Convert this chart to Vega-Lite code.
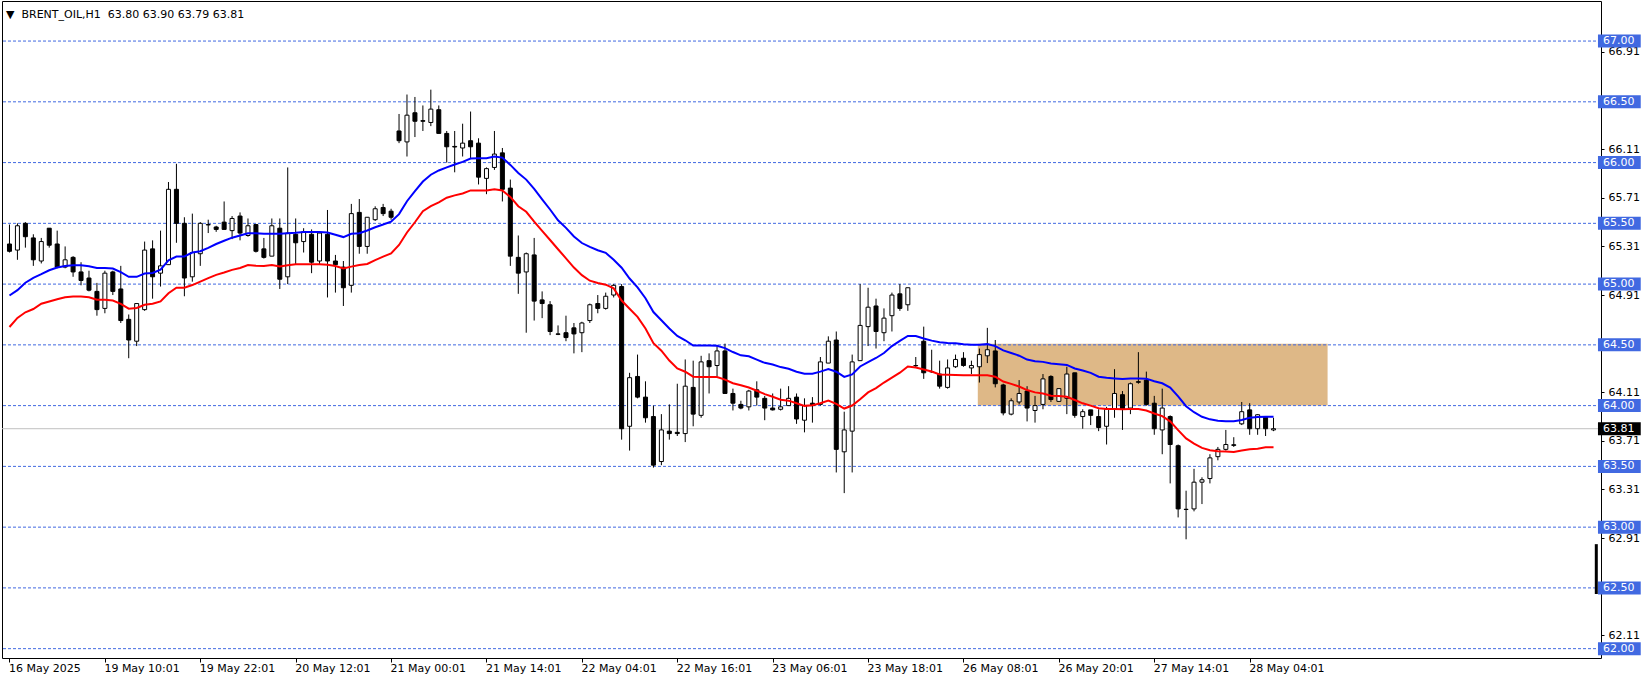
{
"$schema": "https://vega.github.io/schema/vega-lite/v6.json",
"width": 1599, "height": 657,
"autosize": {"type": "none"},
"padding": {"left": 2, "top": 1, "right": 50, "bottom": 24},
"background": "white",
"config": {"view": {"stroke": "black", "strokeWidth": 1}, "font": "DejaVu Sans"},
"title": {"text": "▼\u00a0\u00a0BRENT_OIL,H1\u00a0\u00a063.80 63.90 63.79 63.81", "anchor": "start", "frame": "group", "orient": "top", "offset": -25, "baseline": "middle", "dx": 4, "font": "DejaVu Sans", "fontSize": 11, "fontWeight": "normal", "color": "black"},
"datasets": {
"bars": [
{"i":0,"o":65.33,"h":65.49,"l":65.26,"c":65.27,"ma1":64.906,"ma2":64.647},
{"i":1,"o":65.28,"h":65.50,"l":65.20,"c":65.48,"ma1":64.95,"ma2":64.722},
{"i":2,"o":65.50,"h":65.51,"l":65.30,"c":65.39,"ma1":65.011,"ma2":64.768},
{"i":3,"o":65.38,"h":65.41,"l":65.15,"c":65.20,"ma1":65.052,"ma2":64.795},
{"i":4,"o":65.19,"h":65.38,"l":65.17,"c":65.35,"ma1":65.082,"ma2":64.838},
{"i":5,"o":65.46,"h":65.46,"l":65.30,"c":65.32,"ma1":65.114,"ma2":64.857},
{"i":6,"o":65.33,"h":65.44,"l":65.13,"c":65.14,"ma1":65.136,"ma2":64.876},
{"i":7,"o":65.14,"h":65.31,"l":65.13,"c":65.20,"ma1":65.149,"ma2":64.892},
{"i":8,"o":65.22,"h":65.23,"l":65.06,"c":65.10,"ma1":65.155,"ma2":64.898},
{"i":9,"o":65.10,"h":65.18,"l":64.99,"c":65.03,"ma1":65.155,"ma2":64.898},
{"i":10,"o":65.05,"h":65.11,"l":64.94,"c":64.95,"ma1":65.146,"ma2":64.892},
{"i":11,"o":64.94,"h":65.01,"l":64.74,"c":64.79,"ma1":65.133,"ma2":64.871},
{"i":12,"o":64.80,"h":65.11,"l":64.76,"c":65.09,"ma1":65.133,"ma2":64.871},
{"i":13,"o":65.10,"h":65.11,"l":64.91,"c":64.94,"ma1":65.128,"ma2":64.865},
{"i":14,"o":64.96,"h":65.15,"l":64.68,"c":64.70,"ma1":65.098,"ma2":64.838},
{"i":15,"o":64.71,"h":64.75,"l":64.39,"c":64.54,"ma1":65.06,"ma2":64.798},
{"i":16,"o":64.53,"h":64.84,"l":64.49,"c":64.84,"ma1":65.06,"ma2":64.803},
{"i":17,"o":64.79,"h":65.35,"l":64.78,"c":65.28,"ma1":65.087,"ma2":64.83},
{"i":18,"o":65.29,"h":65.36,"l":64.88,"c":65.06,"ma1":65.092,"ma2":64.838},
{"i":19,"o":65.09,"h":65.44,"l":64.98,"c":65.15,"ma1":65.119,"ma2":64.857},
{"i":20,"o":65.16,"h":65.84,"l":65.16,"c":65.78,"ma1":65.195,"ma2":64.925},
{"i":21,"o":65.78,"h":65.99,"l":65.34,"c":65.50,"ma1":65.227,"ma2":64.971},
{"i":22,"o":65.50,"h":65.55,"l":64.90,"c":65.05,"ma1":65.227,"ma2":64.971},
{"i":23,"o":65.06,"h":65.58,"l":65.02,"c":65.26,"ma1":65.26,"ma2":64.992},
{"i":24,"o":65.25,"h":65.51,"l":65.15,"c":65.50,"ma1":65.27,"ma2":65.02},
{"i":25,"o":65.487,"h":65.53,"l":65.42,"c":65.49,"ma1":65.298,"ma2":65.049},
{"i":26,"o":65.47,"h":65.48,"l":65.43,"c":65.45,"ma1":65.33,"ma2":65.076},
{"i":27,"o":65.51,"h":65.68,"l":65.45,"c":65.45,"ma1":65.357,"ma2":65.095},
{"i":28,"o":65.44,"h":65.56,"l":65.37,"c":65.54,"ma1":65.382,"ma2":65.117},
{"i":29,"o":65.56,"h":65.59,"l":65.36,"c":65.42,"ma1":65.40,"ma2":65.133},
{"i":30,"o":65.40,"h":65.54,"l":65.39,"c":65.48,"ma1":65.419,"ma2":65.157},
{"i":31,"o":65.49,"h":65.49,"l":65.26,"c":65.27,"ma1":65.419,"ma2":65.152},
{"i":32,"o":65.29,"h":65.38,"l":65.21,"c":65.22,"ma1":65.414,"ma2":65.149},
{"i":33,"o":65.23,"h":65.54,"l":65.23,"c":65.48,"ma1":65.414,"ma2":65.157},
{"i":34,"o":65.46,"h":65.54,"l":64.96,"c":65.04,"ma1":65.414,"ma2":65.144},
{"i":35,"o":65.06,"h":65.96,"l":65.00,"c":65.42,"ma1":65.419,"ma2":65.155},
{"i":36,"o":65.41,"h":65.54,"l":65.16,"c":65.34,"ma1":65.422,"ma2":65.163},
{"i":37,"o":65.35,"h":65.46,"l":65.26,"c":65.43,"ma1":65.428,"ma2":65.163},
{"i":38,"o":65.41,"h":65.45,"l":65.09,"c":65.18,"ma1":65.428,"ma2":65.163},
{"i":39,"o":65.19,"h":65.43,"l":65.16,"c":65.42,"ma1":65.428,"ma2":65.163},
{"i":40,"o":65.41,"h":65.61,"l":64.89,"c":65.19,"ma1":65.425,"ma2":65.16},
{"i":41,"o":65.19,"h":65.24,"l":64.93,"c":65.16,"ma1":65.406,"ma2":65.149},
{"i":42,"o":65.14,"h":65.19,"l":64.82,"c":64.97,"ma1":65.387,"ma2":65.128},
{"i":43,"o":64.99,"h":65.66,"l":64.93,"c":65.58,"ma1":65.414,"ma2":65.144},
{"i":44,"o":65.59,"h":65.70,"l":65.25,"c":65.31,"ma1":65.419,"ma2":65.157},
{"i":45,"o":65.31,"h":65.55,"l":65.25,"c":65.55,"ma1":65.441,"ma2":65.166},
{"i":46,"o":65.53,"h":65.64,"l":65.52,"c":65.62,"ma1":65.468,"ma2":65.198},
{"i":47,"o":65.63,"h":65.66,"l":65.56,"c":65.58,"ma1":65.49,"ma2":65.226},
{"i":48,"o":65.60,"h":65.62,"l":65.53,"c":65.55,"ma1":65.514,"ma2":65.252},
{"i":49,"o":66.26,"h":66.40,"l":66.16,"c":66.18,"ma1":65.576,"ma2":65.322},
{"i":50,"o":66.17,"h":66.56,"l":66.05,"c":66.39,"ma1":65.682,"ma2":65.425},
{"i":51,"o":66.41,"h":66.54,"l":66.21,"c":66.34,"ma1":65.765,"ma2":65.509},
{"i":52,"o":66.345,"h":66.47,"l":66.26,"c":66.34,"ma1":65.844,"ma2":65.60},
{"i":53,"o":66.33,"h":66.60,"l":66.30,"c":66.44,"ma1":65.90,"ma2":65.641},
{"i":54,"o":66.435,"h":66.47,"l":66.24,"c":66.24,"ma1":65.935,"ma2":65.673},
{"i":55,"o":66.24,"h":66.26,"l":66.00,"c":66.13,"ma1":65.96,"ma2":65.711},
{"i":56,"o":66.133,"h":66.26,"l":65.92,"c":66.128,"ma1":65.984,"ma2":65.73},
{"i":57,"o":66.12,"h":66.32,"l":66.05,"c":66.16,"ma1":66.006,"ma2":65.746},
{"i":58,"o":66.18,"h":66.42,"l":66.03,"c":66.13,"ma1":66.033,"ma2":65.771},
{"i":59,"o":66.16,"h":66.20,"l":65.82,"c":65.88,"ma1":66.035,"ma2":65.771},
{"i":60,"o":65.87,"h":65.96,"l":65.74,"c":65.95,"ma1":66.035,"ma2":65.771},
{"i":61,"o":65.96,"h":66.26,"l":65.94,"c":66.07,"ma1":66.049,"ma2":65.781},
{"i":62,"o":66.08,"h":66.12,"l":65.68,"c":65.78,"ma1":66.041,"ma2":65.771},
{"i":63,"o":65.79,"h":65.86,"l":65.15,"c":65.23,"ma1":65.981,"ma2":65.717},
{"i":64,"o":65.22,"h":65.40,"l":64.92,"c":65.09,"ma1":65.914,"ma2":65.641},
{"i":65,"o":65.10,"h":65.26,"l":64.60,"c":65.25,"ma1":65.86,"ma2":65.595},
{"i":66,"o":65.24,"h":65.38,"l":64.70,"c":64.86,"ma1":65.784,"ma2":65.514},
{"i":67,"o":64.87,"h":64.94,"l":64.72,"c":64.84,"ma1":65.698,"ma2":65.438},
{"i":68,"o":64.83,"h":64.86,"l":64.58,"c":64.61,"ma1":65.614,"ma2":65.363},
{"i":69,"o":64.59,"h":64.66,"l":64.58,"c":64.587,"ma1":65.525,"ma2":65.287},
{"i":70,"o":64.60,"h":64.74,"l":64.53,"c":64.56,"ma1":65.463,"ma2":65.212},
{"i":71,"o":64.64,"h":64.68,"l":64.43,"c":64.59,"ma1":65.392,"ma2":65.136},
{"i":72,"o":64.60,"h":64.69,"l":64.44,"c":64.68,"ma1":65.338,"ma2":65.074},
{"i":73,"o":64.70,"h":64.84,"l":64.68,"c":64.83,"ma1":65.306,"ma2":65.028},
{"i":74,"o":64.84,"h":64.91,"l":64.76,"c":64.80,"ma1":65.279,"ma2":65.009},
{"i":75,"o":64.80,"h":64.93,"l":64.79,"c":64.90,"ma1":65.257,"ma2":64.995},
{"i":76,"o":64.91,"h":65.00,"l":64.89,"c":64.99,"ma1":65.20,"ma2":64.965},
{"i":77,"o":64.98,"h":65.00,"l":63.72,"c":63.81,"ma1":65.135,"ma2":64.865},
{"i":78,"o":63.83,"h":64.27,"l":63.63,"c":64.23,"ma1":65.046,"ma2":64.797},
{"i":79,"o":64.24,"h":64.42,"l":64.06,"c":64.07,"ma1":64.973,"ma2":64.73},
{"i":80,"o":64.07,"h":64.20,"l":63.86,"c":63.90,"ma1":64.884,"ma2":64.635},
{"i":81,"o":63.91,"h":64.00,"l":63.49,"c":63.51,"ma1":64.77,"ma2":64.514},
{"i":82,"o":63.54,"h":63.93,"l":63.51,"c":63.80,"ma1":64.703,"ma2":64.452},
{"i":83,"o":63.79,"h":64.01,"l":63.72,"c":63.77,"ma1":64.635,"ma2":64.371},
{"i":84,"o":63.78,"h":64.18,"l":63.75,"c":63.77,"ma1":64.573,"ma2":64.306},
{"i":85,"o":63.77,"h":64.38,"l":63.70,"c":64.16,"ma1":64.538,"ma2":64.279},
{"i":86,"o":64.15,"h":64.37,"l":63.83,"c":63.93,"ma1":64.495,"ma2":64.238},
{"i":87,"o":63.92,"h":64.41,"l":63.90,"c":64.36,"ma1":64.495,"ma2":64.236},
{"i":88,"o":64.37,"h":64.43,"l":64.10,"c":64.32,"ma1":64.495,"ma2":64.236},
{"i":89,"o":64.33,"h":64.49,"l":64.24,"c":64.45,"ma1":64.492,"ma2":64.236},
{"i":90,"o":64.45,"h":64.51,"l":64.10,"c":64.10,"ma1":64.473,"ma2":64.214},
{"i":91,"o":64.10,"h":64.14,"l":63.96,"c":64.02,"ma1":64.441,"ma2":64.184},
{"i":92,"o":64.01,"h":64.04,"l":63.97,"c":63.98,"ma1":64.414,"ma2":64.168},
{"i":93,"o":63.99,"h":64.13,"l":63.96,"c":64.12,"ma1":64.406,"ma2":64.149},
{"i":94,"o":64.13,"h":64.20,"l":64.00,"c":64.07,"ma1":64.379,"ma2":64.122},
{"i":95,"o":64.06,"h":64.08,"l":63.88,"c":63.98,"ma1":64.352,"ma2":64.095},
{"i":96,"o":63.98,"h":64.10,"l":63.96,"c":63.965,"ma1":64.338,"ma2":64.073},
{"i":97,"o":63.97,"h":64.14,"l":63.96,"c":63.99,"ma1":64.317,"ma2":64.049},
{"i":98,"o":64.00,"h":64.16,"l":64.00,"c":64.06,"ma1":64.303,"ma2":64.041},
{"i":99,"o":64.07,"h":64.10,"l":63.85,"c":63.89,"ma1":64.279,"ma2":64.019},
{"i":100,"o":63.88,"h":64.06,"l":63.78,"c":64.00,"ma1":64.263,"ma2":63.998},
{"i":101,"o":64.02,"h":64.07,"l":63.86,"c":64.00,"ma1":64.263,"ma2":64.003},
{"i":102,"o":64.01,"h":64.40,"l":64.00,"c":64.36,"ma1":64.28,"ma2":64.02},
{"i":103,"o":64.35,"h":64.57,"l":64.35,"c":64.53,"ma1":64.30,"ma2":64.041},
{"i":104,"o":64.54,"h":64.61,"l":63.45,"c":63.64,"ma1":64.279,"ma2":64.014},
{"i":105,"o":63.62,"h":63.95,"l":63.28,"c":63.80,"ma1":64.236,"ma2":63.976},
{"i":106,"o":63.79,"h":64.42,"l":63.45,"c":64.36,"ma1":64.257,"ma2":64.001},
{"i":107,"o":64.37,"h":65.00,"l":64.37,"c":64.66,"ma1":64.322,"ma2":64.052},
{"i":108,"o":64.65,"h":64.97,"l":64.49,"c":64.81,"ma1":64.357,"ma2":64.109},
{"i":109,"o":64.82,"h":64.88,"l":64.47,"c":64.61,"ma1":64.392,"ma2":64.144},
{"i":110,"o":64.60,"h":64.80,"l":64.53,"c":64.72,"ma1":64.433,"ma2":64.19},
{"i":111,"o":64.74,"h":64.93,"l":64.61,"c":64.91,"ma1":64.49,"ma2":64.23},
{"i":112,"o":64.92,"h":65.00,"l":64.78,"c":64.80,"ma1":64.533,"ma2":64.271},
{"i":113,"o":64.83,"h":64.97,"l":64.78,"c":64.97,"ma1":64.573,"ma2":64.322},
{"i":114,"o":64.33,"h":64.40,"l":64.31,"c":64.328,"ma1":64.573,"ma2":64.314},
{"i":115,"o":64.53,"h":64.65,"l":64.22,"c":64.27,"ma1":64.552,"ma2":64.298},
{"i":116,"o":64.28,"h":64.46,"l":64.27,"c":64.278,"ma1":64.535,"ma2":64.281},
{"i":117,"o":64.26,"h":64.37,"l":64.14,"c":64.16,"ma1":64.522,"ma2":64.257},
{"i":118,"o":64.15,"h":64.38,"l":64.14,"c":64.31,"ma1":64.516,"ma2":64.254},
{"i":119,"o":64.32,"h":64.42,"l":64.31,"c":64.38,"ma1":64.514,"ma2":64.252},
{"i":120,"o":64.39,"h":64.44,"l":64.32,"c":64.33,"ma1":64.506,"ma2":64.249},
{"i":121,"o":64.31,"h":64.37,"l":64.26,"c":64.33,"ma1":64.50,"ma2":64.249},
{"i":122,"o":64.32,"h":64.47,"l":64.19,"c":64.42,"ma1":64.50,"ma2":64.249},
{"i":123,"o":64.41,"h":64.64,"l":64.35,"c":64.46,"ma1":64.506,"ma2":64.249},
{"i":124,"o":64.45,"h":64.54,"l":64.15,"c":64.18,"ma1":64.49,"ma2":64.238},
{"i":125,"o":64.17,"h":64.18,"l":63.92,"c":63.94,"ma1":64.454,"ma2":64.198},
{"i":126,"o":63.93,"h":64.06,"l":63.92,"c":64.04,"ma1":64.433,"ma2":64.179},
{"i":127,"o":64.03,"h":64.21,"l":64.01,"c":64.10,"ma1":64.411,"ma2":64.157},
{"i":128,"o":64.12,"h":64.16,"l":63.87,"c":63.98,"ma1":64.379,"ma2":64.128},
{"i":129,"o":63.96,"h":64.08,"l":63.86,"c":64.00,"ma1":64.365,"ma2":64.109},
{"i":130,"o":64.01,"h":64.26,"l":63.97,"c":64.22,"ma1":64.36,"ma2":64.10},
{"i":131,"o":64.24,"h":64.25,"l":64.03,"c":64.05,"ma1":64.346,"ma2":64.081},
{"i":132,"o":64.035,"h":64.14,"l":64.03,"c":64.14,"ma1":64.341,"ma2":64.079},
{"i":133,"o":64.06,"h":64.32,"l":63.93,"c":64.26,"ma1":64.335,"ma2":64.073},
{"i":134,"o":64.27,"h":64.27,"l":63.90,"c":63.92,"ma1":64.306,"ma2":64.046},
{"i":135,"o":63.91,"h":63.97,"l":63.81,"c":63.95,"ma1":64.289,"ma2":64.019},
{"i":136,"o":63.965,"h":63.965,"l":63.84,"c":63.92,"ma1":64.27,"ma2":64.0},
{"i":137,"o":63.91,"h":63.97,"l":63.79,"c":63.82,"ma1":64.238,"ma2":63.979},
{"i":138,"o":63.83,"h":63.99,"l":63.68,"c":63.97,"ma1":64.23,"ma2":63.973},
{"i":139,"o":63.97,"h":64.30,"l":63.90,"c":64.10,"ma1":64.224,"ma2":63.973},
{"i":140,"o":64.09,"h":64.12,"l":63.80,"c":63.97,"ma1":64.219,"ma2":63.971},
{"i":141,"o":63.98,"h":64.19,"l":63.93,"c":64.18,"ma1":64.224,"ma2":63.973},
{"i":142,"o":64.197,"h":64.44,"l":64.18,"c":64.192,"ma1":64.224,"ma2":63.973},
{"i":143,"o":64.21,"h":64.28,"l":64.00,"c":64.01,"ma1":64.222,"ma2":63.96},
{"i":144,"o":64.02,"h":64.08,"l":63.76,"c":63.81,"ma1":64.20,"ma2":63.935},
{"i":145,"o":63.80,"h":64.14,"l":63.60,"c":63.98,"ma1":64.184,"ma2":63.914},
{"i":146,"o":63.91,"h":63.92,"l":63.36,"c":63.68,"ma1":64.149,"ma2":63.871},
{"i":147,"o":63.67,"h":63.68,"l":63.08,"c":63.15,"ma1":64.076,"ma2":63.798},
{"i":148,"o":63.147,"h":63.30,"l":62.90,"c":63.145,"ma1":63.995,"ma2":63.73},
{"i":149,"o":63.15,"h":63.48,"l":63.13,"c":63.37,"ma1":63.946,"ma2":63.687},
{"i":150,"o":63.37,"h":63.41,"l":63.19,"c":63.39,"ma1":63.908,"ma2":63.652},
{"i":151,"o":63.40,"h":63.60,"l":63.36,"c":63.57,"ma1":63.887,"ma2":63.633},
{"i":152,"o":63.58,"h":63.66,"l":63.55,"c":63.64,"ma1":63.876,"ma2":63.625},
{"i":153,"o":63.64,"h":63.80,"l":63.63,"c":63.68,"ma1":63.871,"ma2":63.622},
{"i":154,"o":63.678,"h":63.74,"l":63.66,"c":63.673,"ma1":63.871,"ma2":63.619},
{"i":155,"o":63.85,"h":64.03,"l":63.84,"c":63.95,"ma1":63.881,"ma2":63.63},
{"i":156,"o":63.965,"h":64.02,"l":63.76,"c":63.81,"ma1":63.90,"ma2":63.641},
{"i":157,"o":63.81,"h":63.93,"l":63.76,"c":63.925,"ma1":63.906,"ma2":63.646},
{"i":158,"o":63.91,"h":63.91,"l":63.75,"c":63.81,"ma1":63.908,"ma2":63.657},
{"i":159,"o":63.80,"h":63.90,"l":63.79,"c":63.81,"ma1":63.908,"ma2":63.657}
],
"levels": [{"level":62.0},{"level":62.5},{"level":63.0},{"level":63.5},{"level":64.0},{"level":64.5},{"level":65.0},{"level":65.5},{"level":66.0},{"level":66.5},{"level":67.0}],
"zone": [{"start":121.8,"end":165.8,"low":64.0,"high":64.51}],
"last": [{"price":63.81}]
},
"layer": [
{"data": {"name": "zone"}, "mark": {"type": "rect", "color": "#DEB887"},
 "encoding": {
  "x": {"field": "start", "type": "quantitative", "title": null, "scale": {"domain": [-0.3125, 199.5625], "nice": false, "zero": false},
        "axis": {"values": [0,12,24,36,48,60,72,84,96,108,120,132,144,156], "labelExpr": "['16 May 2025','19 May 10:01','19 May 22:01','20 May 12:01','21 May 00:01','21 May 14:01','22 May 04:01','22 May 16:01','23 May 06:01','23 May 18:01','26 May 08:01','26 May 20:01','27 May 14:01','28 May 04:01'][round(datum.value/12)]", "domain": false, "grid": false, "tickSize": 4, "tickColor": "black", "labelPadding": 0, "labelAlign": "left", "labelBaseline": "top", "labelFont": "DejaVu Sans", "labelFontSize": 11, "labelColor": "black", "labelFlush": false, "labelOverlap": false, "labelBound": false, "labelOffset": -1}},
  "x2": {"field": "end"},
  "y": {"field": "low", "type": "quantitative", "title": null, "scale": {"domain": [61.96434, 67.28849], "nice": false, "zero": false},
        "axis": {"orient": "right", "values": [62.11,62.91,63.31,63.71,64.11,64.91,65.31,65.71,66.11,66.91], "format": ".2f", "domain": false, "grid": false, "tickSize": 3, "tickColor": "black", "labelPadding": 4, "labelAlign": "left", "labelBaseline": "middle", "labelFont": "DejaVu Sans", "labelFontSize": 11, "labelColor": "black", "labelFlush": false, "labelOverlap": false, "labelBound": false}},
  "y2": {"field": "high"}
 }},
{"data": {"name": "levels"}, "mark": {"type": "rule", "color": "#4169E1", "strokeWidth": 1, "strokeDash": [3, 2]},
 "encoding": {"y": {"field": "level", "type": "quantitative", "title": null, "scale": {"domain": [61.96434, 67.28849], "nice": false, "zero": false}}}},
{"data": {"name": "last"}, "mark": {"type": "rule", "color": "#C0C0C0", "strokeWidth": 1},
 "encoding": {"y": {"field": "price", "type": "quantitative", "title": null, "scale": {"domain": [61.96434, 67.28849], "nice": false, "zero": false}}}},
{"data": {"name": "bars"}, "mark": {"type": "rule", "color": "black", "strokeWidth": 1},
 "encoding": {
  "x": {"field": "i", "type": "quantitative", "title": null, "scale": {"domain": [-0.3125, 199.5625], "nice": false, "zero": false}},
  "y": {"field": "l", "type": "quantitative", "title": null, "scale": {"domain": [61.96434, 67.28849], "nice": false, "zero": false}},
  "y2": {"field": "h"}
 }},
{"data": {"name": "bars"}, "mark": {"type": "bar", "size": 4, "stroke": "black", "strokeWidth": 1, "orient": "vertical"},
 "encoding": {
  "x": {"field": "i", "type": "quantitative", "title": null, "scale": {"domain": [-0.3125, 199.5625], "nice": false, "zero": false}},
  "y": {"field": "o", "type": "quantitative", "title": null, "scale": {"domain": [61.96434, 67.28849], "nice": false, "zero": false}},
  "y2": {"field": "c"},
  "fill": {"condition": {"test": "datum.c >= datum.o", "value": "white"}, "value": "black"}
 }},
{"data": {"name": "bars"}, "mark": {"type": "line", "color": "#0000FF", "strokeWidth": 2},
 "encoding": {
  "x": {"field": "i", "type": "quantitative", "title": null, "scale": {"domain": [-0.3125, 199.5625], "nice": false, "zero": false}},
  "y": {"field": "ma1", "type": "quantitative", "title": null, "scale": {"domain": [61.96434, 67.28849], "nice": false, "zero": false}}
 }},
{"data": {"name": "bars"}, "mark": {"type": "line", "color": "#FF0000", "strokeWidth": 2},
 "encoding": {
  "x": {"field": "i", "type": "quantitative", "title": null, "scale": {"domain": [-0.3125, 199.5625], "nice": false, "zero": false}},
  "y": {"field": "ma2", "type": "quantitative", "title": null, "scale": {"domain": [61.96434, 67.28849], "nice": false, "zero": false}}
 }},
{"data": {"name": "levels"}, "mark": {"type": "bar", "color": "#4169E1", "size": 13, "orient": "horizontal", "clip": false},
 "encoding": {
  "x": {"datum": 199.81, "type": "quantitative", "title": null, "scale": {"domain": [-0.3125, 199.5625], "nice": false, "zero": false}},
  "x2": {"datum": 205.19},
  "y": {"field": "level", "type": "quantitative", "title": null, "scale": {"domain": [61.96434, 67.28849], "nice": false, "zero": false}}
 }},
{"data": {"name": "levels"}, "mark": {"type": "text", "color": "white", "align": "left", "baseline": "middle", "font": "DejaVu Sans", "fontSize": 11, "clip": false},
 "encoding": {
  "x": {"datum": 200.44, "type": "quantitative", "title": null, "scale": {"domain": [-0.3125, 199.5625], "nice": false, "zero": false}},
  "y": {"field": "level", "type": "quantitative", "title": null, "scale": {"domain": [61.96434, 67.28849], "nice": false, "zero": false}},
  "text": {"field": "level", "type": "quantitative", "format": ".2f"}
 }},
{"data": {"name": "last"}, "mark": {"type": "bar", "color": "black", "size": 13, "orient": "horizontal", "clip": false},
 "encoding": {
  "x": {"datum": 199.81, "type": "quantitative", "title": null, "scale": {"domain": [-0.3125, 199.5625], "nice": false, "zero": false}},
  "x2": {"datum": 205.19},
  "y": {"field": "price", "type": "quantitative", "title": null, "scale": {"domain": [61.96434, 67.28849], "nice": false, "zero": false}}
 }},
{"data": {"name": "last"}, "mark": {"type": "text", "color": "white", "align": "left", "baseline": "middle", "font": "DejaVu Sans", "fontSize": 11, "clip": false},
 "encoding": {
  "x": {"datum": 200.44, "type": "quantitative", "title": null, "scale": {"domain": [-0.3125, 199.5625], "nice": false, "zero": false}},
  "y": {"field": "price", "type": "quantitative", "title": null, "scale": {"domain": [61.96434, 67.28849], "nice": false, "zero": false}},
  "text": {"field": "price", "type": "quantitative", "format": ".2f"}
 }},
{"data": {"values": [{"top": 62.86, "bottom": 62.45}]}, "mark": {"type": "rule", "color": "black", "strokeWidth": 3, "clip": false},
 "encoding": {
  "x": {"datum": 199.6, "type": "quantitative", "title": null, "scale": {"domain": [-0.3125, 199.5625], "nice": false, "zero": false}},
  "y": {"field": "top", "type": "quantitative", "title": null, "scale": {"domain": [61.96434, 67.28849], "nice": false, "zero": false}},
  "y2": {"field": "bottom"}
 }}
]
}
